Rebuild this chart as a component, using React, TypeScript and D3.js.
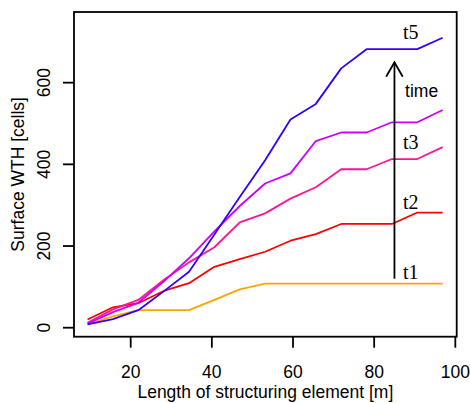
import React from "react";
import * as d3 from "d3";

const lengths = [9.375, 15.625, 21.875, 28.125, 34.375, 40.625, 46.875, 53.125, 59.375, 65.625, 71.875, 78.125, 84.375, 90.625, 96.875];
const t1 = [9, 28, 43, 43, 43, 68, 94, 108, 108, 108, 108, 108, 108, 108, 108];
const t2 = [20, 50, 60, 90, 109, 149, 168, 186, 213, 229, 254, 254, 254, 282, 282];
const t3 = [12, 45, 68, 117, 160, 197, 258, 280, 316, 344, 388, 388, 413, 413, 442];
const t4 = [10, 38, 61, 113, 170, 236, 298, 353, 378, 457, 478, 478, 503, 503, 533];
const t5 = [8, 21, 43, 89, 137, 228, 320, 410, 510, 548, 635, 682, 682, 682, 710];
const seriesList = [t1, t2, t3, t4, t5];
const seriesColors = ["#FFA500", "#FF0000", "#FF1493", "#CC00FF", "#3300FF"];

const xTicks = [20, 40, 60, 80, 100];
const yTicks = [0, 200, 400, 600];

const labelNames = ["t5", "t3", "t2", "t1"];
const labelX = [89, 89, 89, 89];
const labelY = [725, 455, 308, 137];

const arrowX = 85;
const arrowFrom = 120;
const arrowTo = 650;

const W = 470;
const H = 403;
const box = { left: 74, right: 456.7, top: 12, bottom: 336.7 };

export default function App() {
  const x = d3.scaleLinear().domain([6.03, 100.34]).range([box.left, box.right]);
  const y = d3.scaleLinear().domain([-22, 773]).range([box.bottom, box.top]);
  const line = d3
    .line<number>()
    .x((_, i) => x(lengths[i]))
    .y((d) => y(d));

  const sans = "'Liberation Sans', Arial, Helvetica, sans-serif";
  const serif = "'Liberation Serif', 'Times New Roman', serif";
  const fs = 17.5;

  const ax = x(arrowX);
  const ay0 = y(arrowFrom);
  const ay1 = y(arrowTo);

  return (
    <svg
      width={W}
      height={H}
      style={{ position: "absolute", left: 0, top: 0, background: "#fff" }}
    >
      <rect x={0} y={0} width={W} height={H} fill="#fff" />
      {seriesList.map((s, i) => (
        <path
          key={i}
          d={line(s) || ""}
          fill="none"
          stroke={seriesColors[i]}
          strokeWidth={1.8}
          strokeLinejoin="round"
        />
      ))}
      <rect
        x={box.left}
        y={box.top}
        width={box.right - box.left}
        height={box.bottom - box.top}
        fill="none"
        stroke="#000"
        strokeWidth={1.8}
      />
      {xTicks.map((t) => (
        <g key={t}>
          <line x1={x(t)} x2={x(t)} y1={box.bottom} y2={box.bottom + 11} stroke="#000" strokeWidth={1.8} />
          <text x={x(t)} y={378} textAnchor="middle" fontFamily={sans} fontSize={fs} fill="#000">
            {t}
          </text>
        </g>
      ))}
      {yTicks.map((t) => (
        <g key={t}>
          <line x1={box.left} x2={box.left - 11} y1={y(t)} y2={y(t)} stroke="#000" strokeWidth={1.8} />
          <text
            transform={`translate(50, ${y(t)}) rotate(-90)`}
            textAnchor="middle"
            fontFamily={sans}
            fontSize={fs}
            fill="#000"
          >
            {t}
          </text>
        </g>
      ))}
      <text
        x={(box.left + box.right) / 2}
        y={398}
        textAnchor="middle"
        fontFamily={sans}
        fontSize={fs}
        fill="#000"
      >
        Length of structuring element [m]
      </text>
      <text
        transform={`translate(24, ${(box.top + box.bottom) / 2}) rotate(-90)`}
        textAnchor="middle"
        fontFamily={sans}
        fontSize={fs}
        fill="#000"
      >
        Surface WTH [cells]
      </text>
      <line x1={ax} x2={ax} y1={ay0} y2={ay1} stroke="#000" strokeWidth={1.8} />
      <polyline
        points={`${ax - 8.3},${ay1 + 14.5} ${ax},${ay1} ${ax + 8.3},${ay1 + 14.5}`}
        fill="none"
        stroke="#000"
        strokeWidth={1.8}
      />
      <text x={x(91.7)} y={y(580)} dy="0.35em" textAnchor="middle" fontFamily={sans} fontSize={fs} fill="#000">
        time
      </text>
      {labelNames.map((n, i) => (
        <text
          key={n}
          x={x(labelX[i])}
          y={y(labelY[i])}
          dy="0.35em"
          textAnchor="middle"
          fontFamily={serif}
          fontSize={20}
          fill="#000"
        >
          {n}
        </text>
      ))}
    </svg>
  );
}
